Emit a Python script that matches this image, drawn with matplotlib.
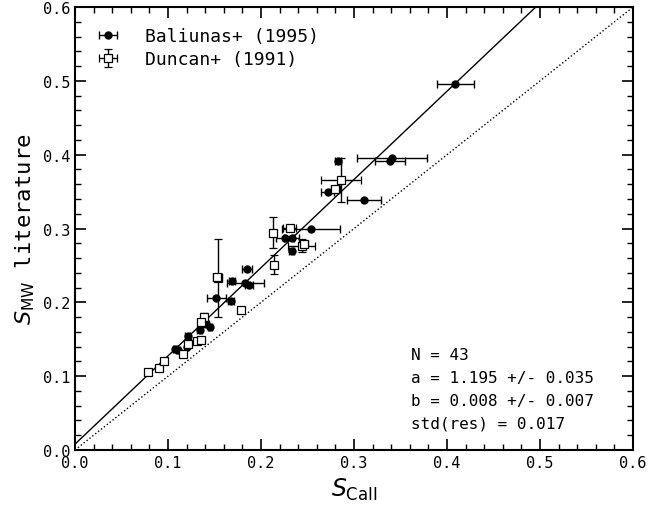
import matplotlib.pyplot as plt
import numpy as np

# Baliunas+ (1995): S_CaII, S_MW, error on S_CaII
bal_x = [0.409, 0.341, 0.339, 0.283, 0.272, 0.311, 0.254, 0.226, 0.233, 0.233,
         0.185, 0.169, 0.183, 0.187, 0.152, 0.168, 0.1075, 0.111, 0.121, 0.122,
         0.120, 0.134, 0.141, 0.145]
bal_y = [0.496, 0.395, 0.392, 0.392, 0.349, 0.339, 0.299, 0.287, 0.287, 0.269,
         0.245, 0.229, 0.226, 0.224, 0.206, 0.202, 0.137, 0.136, 0.155, 0.146,
         0.140, 0.163, 0.171, 0.166]
bal_xerr = [0.020, 0.038, 0.016, 0.003, 0.007, 0.018, 0.031, 0.010, 0.008, 0.003,
            0.005, 0.003, 0.020, 0.004, 0.010, 0.003, 0.002, 0.002, 0.003, 0.003,
            0.002, 0.003, 0.003, 0.002]

# Duncan+ (1991)
dun_x = [0.079, 0.090, 0.096, 0.116, 0.122, 0.131, 0.135, 0.139, 0.136, 0.154,
         0.179, 0.213, 0.231, 0.244, 0.246, 0.214, 0.286, 0.280, 0.153]
dun_y = [0.105, 0.111, 0.121, 0.130, 0.144, 0.148, 0.149, 0.180, 0.173, 0.233,
         0.190, 0.294, 0.301, 0.277, 0.279, 0.251, 0.366, 0.353, 0.234]
dun_xerr = [0.002, 0.002, 0.002, 0.002, 0.002, 0.002, 0.002, 0.003, 0.003, 0.003,
            0.002, 0.003, 0.007, 0.0145, 0.004, 0.003, 0.021, 0.005, 0.005]
dun_yerr = [0.002, 0.002, 0.002, 0.002, 0.002, 0.002, 0.002, 0.005, 0.004, 0.053,
            0.002, 0.021, 0.003, 0.009, 0.004, 0.013, 0.030, 0.005, 0.005]

fit_a = 1.195
fit_b = 0.008
fit_text = "N = 43\na = 1.195 +/- 0.035\nb = 0.008 +/- 0.007\nstd(res) = 0.017"

plt.rcParams['font.family'] = 'DejaVu Sans Mono'
plt.rcParams['mathtext.fontset'] = 'dejavusans'

fig = plt.figure(figsize=(6.49, 5.06), dpi=100)
ax = fig.add_axes([0.1156, 0.1087, 0.8597, 0.8753])

xx = np.array([0.0, 0.6])
ax.plot(xx, fit_a * xx + fit_b, color='k', lw=1.0)
ax.plot(xx, xx, color='k', lw=1.0, ls=':')

ax.errorbar(bal_x, bal_y, xerr=bal_xerr, fmt='o', color='k', ms=5,
            elinewidth=1, capsize=3, label='Baliunas+ (1995)', zorder=3)
ax.errorbar(dun_x, dun_y, xerr=dun_xerr, yerr=dun_yerr, fmt='s', color='k',
            mfc='white', mec='k', ms=6, mew=0.9, elinewidth=1, capsize=3,
            label='Duncan+ (1991)', zorder=3)

ax.text(0.602, 0.232, fit_text, transform=ax.transAxes, ha='left', va='top',
        fontsize=11.5, linespacing=1.65)

ax.set_xlim(0, 0.6)
ax.set_ylim(0, 0.6)
ax.set_xticks(np.arange(0, 0.61, 0.1))
ax.set_yticks(np.arange(0, 0.61, 0.1))
ax.set_xticks(np.arange(0, 0.601, 0.02), minor=True)
ax.set_yticks(np.arange(0, 0.601, 0.02), minor=True)
ax.tick_params(which='both', direction='in', top=True, right=True, labelsize=11)
ax.tick_params(which='major', length=8, width=1.2)
ax.tick_params(which='minor', length=4, width=1.0)
for s in ax.spines.values():
    s.set_linewidth(1.5)

ax.set_xlabel(r'$S_{\rm CaII}$', fontsize=17)
ax.set_ylabel(r'$S_{\rm MW}$ literature', fontsize=16)

ax.legend(loc='upper left', frameon=False, fontsize=13, handlelength=1.5,
          handletextpad=1.3, borderaxespad=0.7, labelspacing=0.3)

plt.savefig('out.png', dpi=100)
